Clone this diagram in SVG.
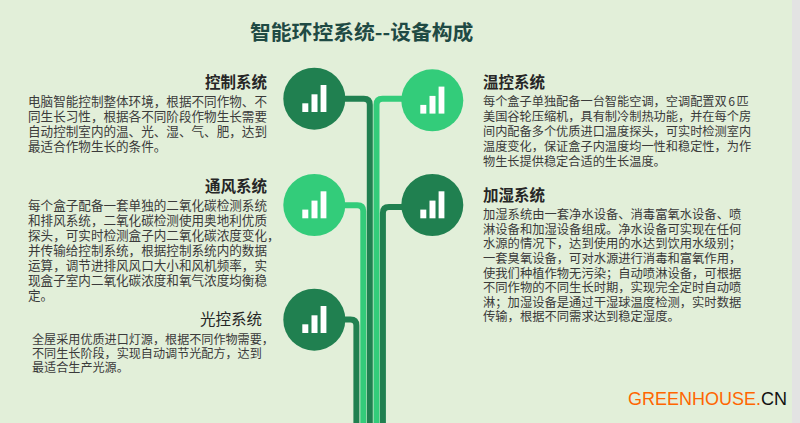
<svg xmlns="http://www.w3.org/2000/svg" xmlns:xlink="http://www.w3.org/1999/xlink" width="800" height="423" viewBox="0 0 800 423">
<style>
text{font-family:"Noto Sans CJK SC","Noto Sans",sans-serif}
.title{font-size:20.8px;font-weight:700;fill:#1f4a44}
.head{font-size:15.5px;font-weight:700;fill:#262626}
.headr{font-size:15.5px;font-weight:400;fill:#262626}
.body{font-size:12.58px;fill:#3a3a3a}
.b3{font-size:12.1px}
.bt{font-size:12.2px}
.bh{font-size:12.3px}
.conn{fill:none;stroke-width:6}
.d{stroke:#208050}.l{stroke:#33cc7a}
.cd{fill:#208050}.cl{fill:#33cc7a}
.bar{fill:#fff}
.logo{font-family:"Liberation Sans",Arial,sans-serif;font-size:18px}
</style>
<defs>
<g id="bars">
<rect class="bar" x="-12" y="4.6" width="6" height="8.7"/>
<rect class="bar" x="-2.8" y="-4.4" width="6" height="17.7"/>
<rect class="bar" x="6.3" y="-13.7" width="5.8" height="27"/>
</g>
</defs>
<rect width="800" height="423" fill="#e2efd9"/>
<rect x="792" width="8" height="423" fill="#e3e3e3"/>
<text class="title" x="250" y="40">智能环控系统--设备构成</text>
<g id="connectors">
<path class="conn d" d="M340 98.7H363.8Q369.8 98.7 369.8 104.7V423"/>
<path class="conn l" d="M405 98.7H382.5Q376.5 98.7 376.5 104.7V423"/>
<path class="conn l" d="M340 205.3H357.3Q363.3 205.3 363.3 211.3V423"/>
<path class="conn d" d="M405 207H388.9Q382.9 207 382.9 213V423"/>
<path class="conn d" d="M340 319.5H350.4Q356.4 319.5 356.4 325.5V423"/>
</g>
<g id="node-control">
<circle class="cd" cx="314.3" cy="98.7" r="31"/><use xlink:href="#bars" href="#bars" x="314.3" y="98.7"/>
<text class="head" x="267" y="88" text-anchor="end">控制系统</text>
<text class="body"><tspan x="28" y="106.3">电脑智能控制整体环境，根据不同作物、不</tspan><tspan x="28" y="121">同生长习性，根据各不同阶段作物生长需要</tspan><tspan x="28" y="136">自动控制室内的温、光、湿、气、肥，达到</tspan><tspan x="28" y="150.5">最适合作物生长的条件。</tspan></text>
</g>
<g id="node-vent">
<circle class="cl" cx="314.3" cy="205" r="31"/><use xlink:href="#bars" href="#bars" x="314.3" y="205"/>
<text class="head" x="267" y="192" text-anchor="end">通风系统</text>
<text class="body"><tspan x="28" y="210">每个盒子配备一套单独的二氧化碳检测系统</tspan><tspan x="28" y="225">和排风系统，二氧化碳检测使用奥地利优质</tspan><tspan x="28" y="240">探头，可实时检测盒子内二氧化碳浓度变化，</tspan><tspan x="28" y="254.5">并传输给控制系统，根据控制系统内的数据</tspan><tspan x="28" y="269.5">运算，调节进排风风口大小和风机频率，实</tspan><tspan x="28" y="284.5">现盒子室内二氧化碳浓度和氧气浓度均衡稳</tspan><tspan x="28" y="299.5">定。</tspan></text>
</g>
<g id="node-light">
<circle class="cd" cx="314.3" cy="319.7" r="31"/><use xlink:href="#bars" href="#bars" x="314.3" y="319.7"/>
<text class="headr" x="262" y="324.5" text-anchor="end">光控系统</text>
<text class="body b3"><tspan x="32" y="343.7">全屋采用优质进口灯源，根据不同作物需要，</tspan><tspan x="32" y="358">不同生长阶段，实现自动调节光配方，达到</tspan><tspan x="32" y="372.3">最适合生产光源。</tspan></text>
</g>
<g id="node-temp">
<circle class="cl" cx="432.3" cy="100.3" r="31"/><use xlink:href="#bars" href="#bars" x="432.3" y="100.3"/>
<text class="head" x="483" y="87.5">温控系统</text>
<text class="body bt"><tspan x="483" y="106.3">每个盒子单独配备一台智能空调，空调配置双<tspan dx="1.5">6</tspan><tspan dx="1.5">匹</tspan></tspan><tspan x="483" y="121">美国谷轮压缩机，具有制冷制热功能，并在每个房</tspan><tspan x="483" y="135.5">间内配备多个优质进口温度探头，可实时检测室内</tspan><tspan x="483" y="150.5">温度变化，保证盒子内温度均一性和稳定性，为作</tspan><tspan x="483" y="165.5">物生长提供稳定合适的生长温度。</tspan></text>
</g>
<g id="node-humid">
<circle class="cd" cx="432.3" cy="205" r="31"/><use xlink:href="#bars" href="#bars" x="432.3" y="205"/>
<text class="head" x="483" y="200.5">加湿系统</text>
<text class="body bh"><tspan x="483" y="219">加湿系统由一套净水设备、消毒富氧水设备、喷</tspan><tspan x="483" y="234">淋设备和加湿设备组成。净水设备可实现在任何</tspan><tspan x="483" y="248">水源的情况下，达到使用的水达到饮用水级别；</tspan><tspan x="483" y="263">一套臭氧设备，可对水源进行消毒和富氧作用，</tspan><tspan x="483" y="278">使我们种植作物无污染；自动喷淋设备，可根据</tspan><tspan x="483" y="292">不同作物的不同生长时期，实现完全定时自动喷</tspan><tspan x="483" y="307">淋；加湿设备是通过干湿球温度检测，实时数据</tspan><tspan x="483" y="321.3">传输，根据不同需求达到稳定湿度。</tspan></text>
</g>
<text class="logo" x="628" y="405" fill="#ff6600">GREENHOUSE.<tspan fill="#111">CN</tspan></text>
</svg>
